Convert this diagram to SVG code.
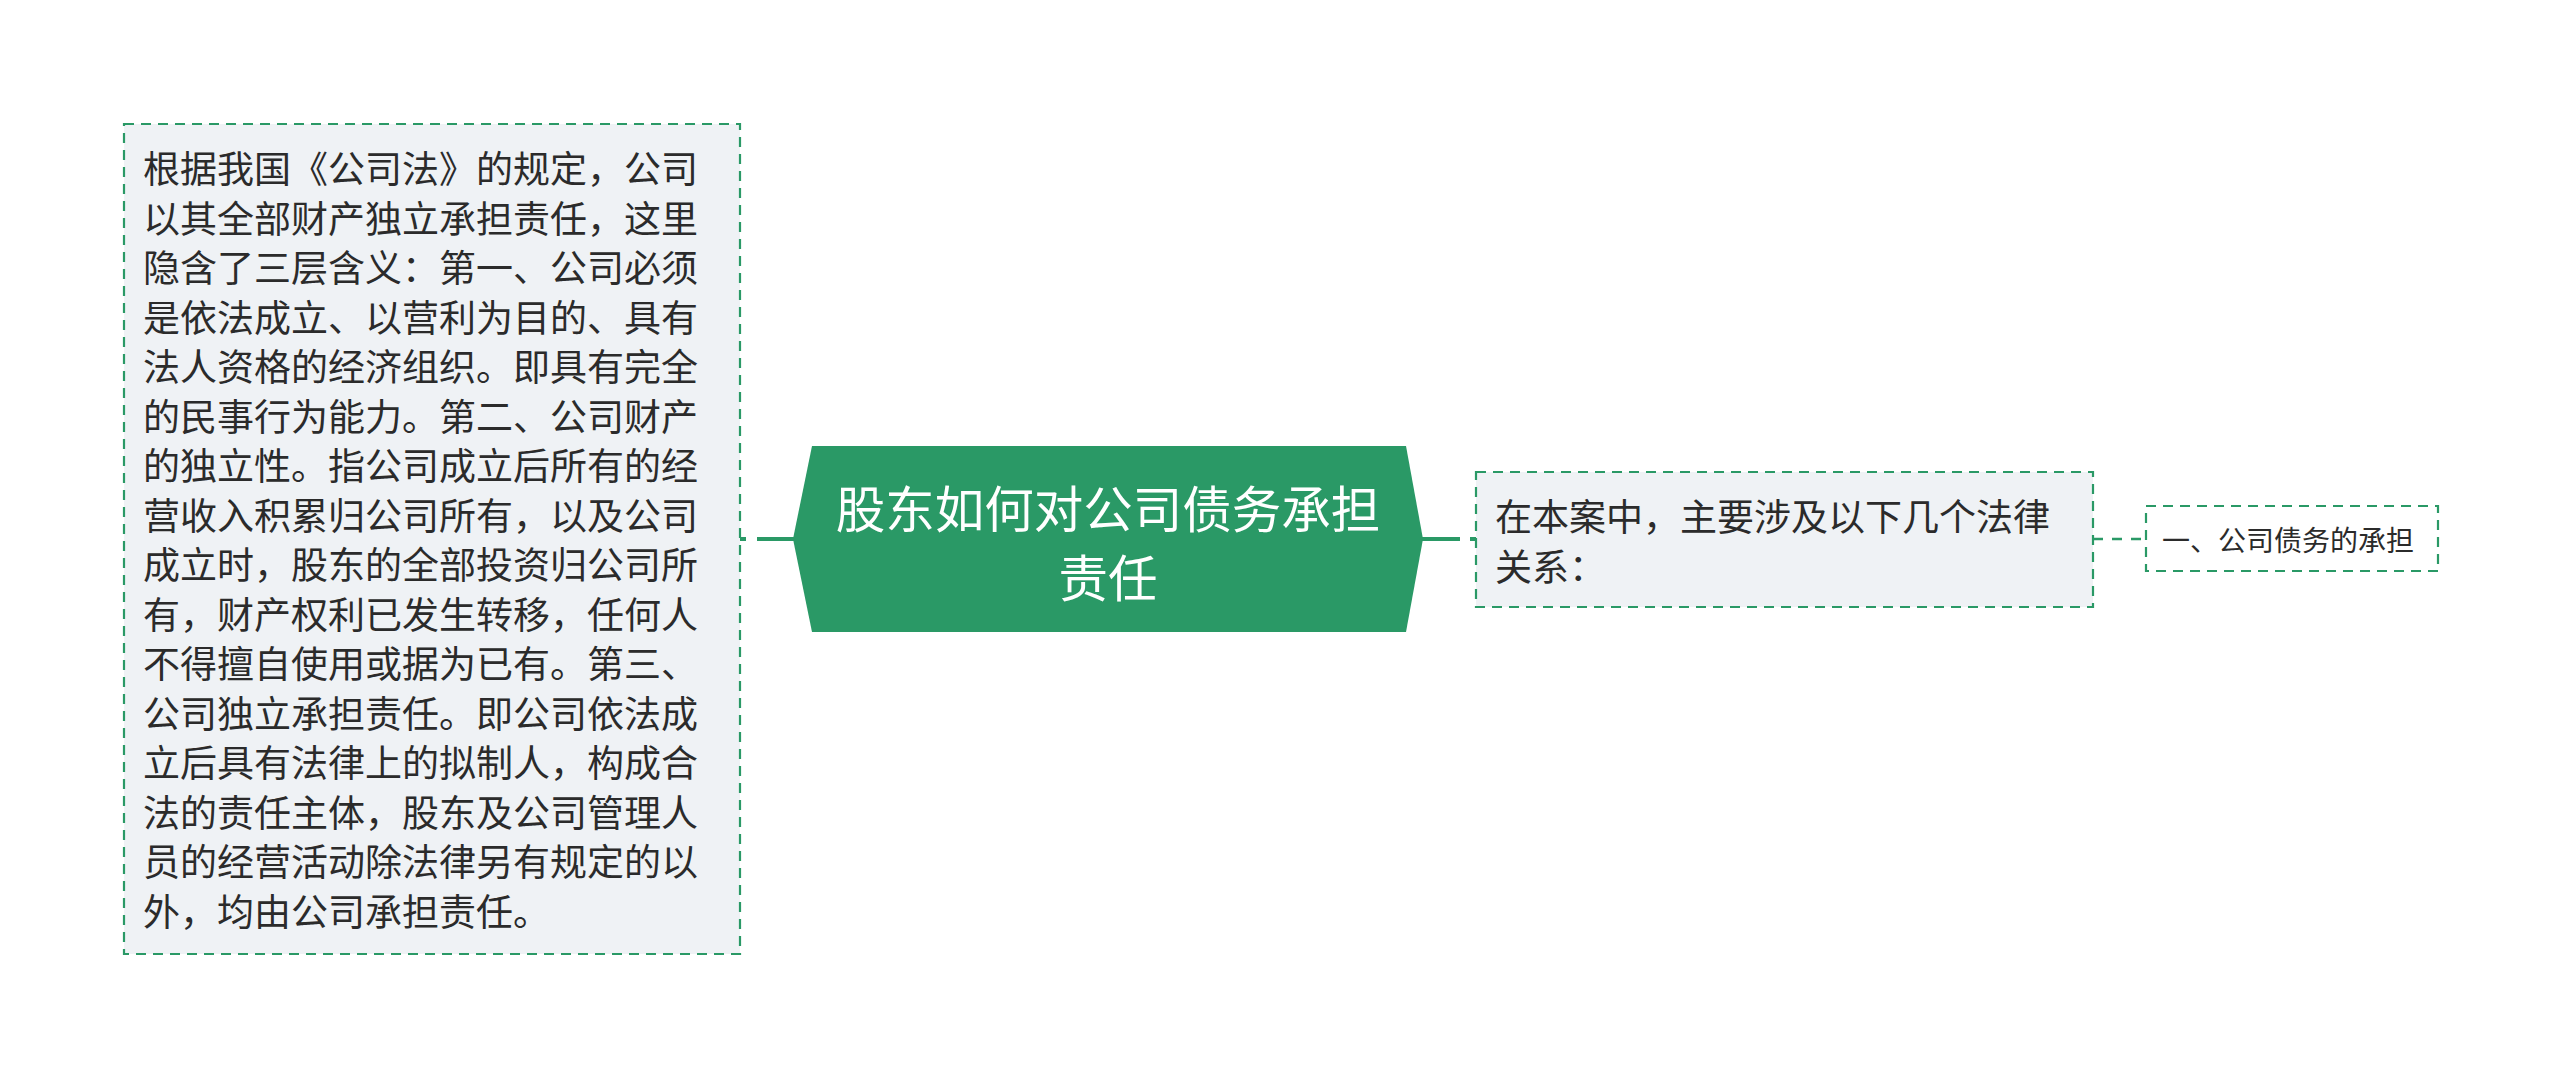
<svg xmlns="http://www.w3.org/2000/svg" width="2560" height="1079" viewBox="0 0 2560 1079">
<style>
.box{fill:#eff2f5;stroke:#2a9966;stroke-width:2.2;stroke-dasharray:10 7}
.leaf{fill:#ffffff;stroke:#2a9966;stroke-width:2.2;stroke-dasharray:10 7}
.t{font-family:"Noto Sans CJK SC","Noto Sans",sans-serif;fill:#2b2b2b;dominant-baseline:central}
.tb{font-size:37px}
.ts{font-size:28px}
.tc{font-family:"Noto Sans CJK SC","Noto Sans",sans-serif;fill:#ffffff;font-size:49.5px;text-anchor:middle;dominant-baseline:central}
.c{fill:none;stroke:#2a9966}
</style>
<rect width="2560" height="1079" fill="#ffffff"/>
<g id="connectors">
<path class="c" d="M740 539H746M757 539H795" stroke-width="4"/>
<path class="c" d="M1421 539H1460M1470 539H1476" stroke-width="4"/>
<path class="c" d="M2093 539H2146" stroke-width="2.5" stroke-dasharray="10 9"/>
</g>
<g id="node-left">
<rect class="box" x="124" y="124" width="616" height="830"/>
<text class="t tb" x="143">
<tspan x="143" y="167">根据我国《公司法》的规定，公司</tspan>
<tspan x="143" y="216.5">以其全部财产独立承担责任，这里</tspan>
<tspan x="143" y="266">隐含了三层含义：第一、公司必须</tspan>
<tspan x="143" y="315.5">是依法成立、以营利为目的、具有</tspan>
<tspan x="143" y="365">法人资格的经济组织。即具有完全</tspan>
<tspan x="143" y="414.5">的民事行为能力。第二、公司财产</tspan>
<tspan x="143" y="464">的独立性。指公司成立后所有的经</tspan>
<tspan x="143" y="513.5">营收入积累归公司所有，以及公司</tspan>
<tspan x="143" y="563">成立时，股东的全部投资归公司所</tspan>
<tspan x="143" y="612.5">有，财产权利已发生转移，任何人</tspan>
<tspan x="143" y="662">不得擅自使用或据为已有。第三、</tspan>
<tspan x="143" y="711.5">公司独立承担责任。即公司依法成</tspan>
<tspan x="143" y="761">立后具有法律上的拟制人，构成合</tspan>
<tspan x="143" y="810.5">法的责任主体，股东及公司管理人</tspan>
<tspan x="143" y="860">员的经营活动除法律另有规定的以</tspan>
<tspan x="143" y="909.5">外，均由公司承担责任。</tspan>
</text>
</g>
<g id="node-root">
<polygon points="812,446 1406,446 1423,539 1406,632 812,632 793,539" fill="#2a9966"/>
<text class="tc" x="1108"><tspan x="1108" y="506">股东如何对公司债务承担</tspan><tspan x="1108" y="575">责任</tspan></text>
</g>
<g id="node-right">
<rect class="box" x="1476" y="472" width="617" height="135"/>
<text class="t tb"><tspan x="1495" y="515">在本案中，主要涉及以下几个法律</tspan><tspan x="1495" y="565">关系：</tspan></text>
</g>
<g id="node-leaf">
<rect class="leaf" x="2146" y="506" width="292" height="65"/>
<text class="t ts" x="2162" y="539">一、公司债务的承担</text>
</g>
</svg>
